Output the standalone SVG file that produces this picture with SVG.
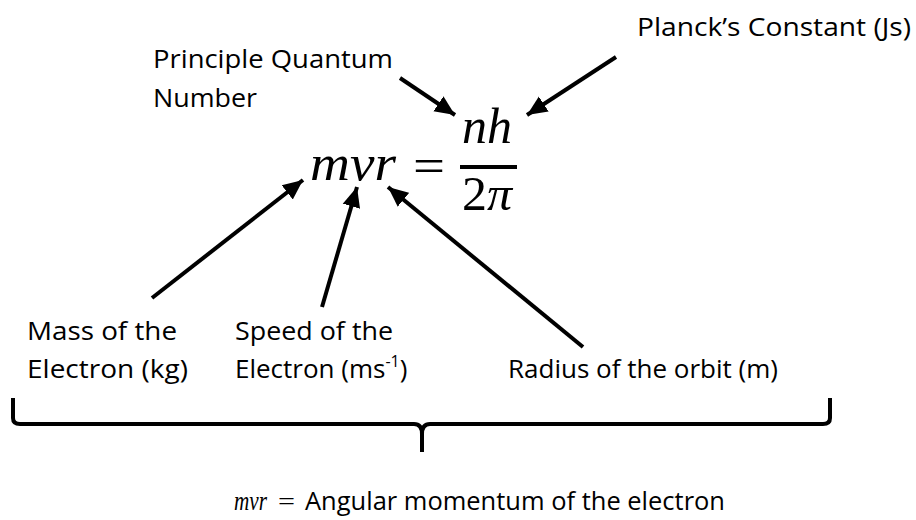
<svg xmlns="http://www.w3.org/2000/svg" width="916" height="520" viewBox="0 0 916 520">
<style>
.lbl{font-family:"Open Sans","Noto Sans","Liberation Sans",sans-serif;font-size:26px;fill:#000}
.math{font-family:"Liberation Serif","DejaVu Serif",serif;font-style:italic;fill:#000}
.up{font-family:"Liberation Serif","DejaVu Serif",serif;font-style:normal;fill:#000}
.arr{stroke:#000;stroke-width:4;fill:none;marker-end:url(#ah)}
</style>
<defs>
<marker id="ah" markerUnits="userSpaceOnUse" markerWidth="22" markerHeight="20" refX="20" refY="9" orient="auto" viewBox="0 0 22 18">
<path d="M0,0 L20,9 L0,18 Z" fill="#000"/>
</marker>
</defs>
<rect width="916" height="520" fill="#fff"/>
<g id="equation">
<text class="math" x="310" y="180" font-size="50" textLength="86" lengthAdjust="spacingAndGlyphs">mvr</text>
<text class="up" x="413" y="182" font-size="48" textLength="32" lengthAdjust="spacingAndGlyphs">=</text>
<text class="math" x="462" y="143" font-size="50" textLength="50" lengthAdjust="spacingAndGlyphs">nh</text>
<rect x="460" y="165" width="57" height="4" fill="#000"/>
<text class="up" x="462" y="210" font-size="48" textLength="50" lengthAdjust="spacingAndGlyphs">2<tspan font-style="italic">π</tspan></text>
</g>
<g id="planck"><text class="lbl" x="637" y="36" textLength="274" lengthAdjust="spacingAndGlyphs">Planck’s Constant (Js)</text></g>
<g id="principle">
<text class="lbl" x="153" y="68" textLength="240" lengthAdjust="spacingAndGlyphs">Principle Quantum</text>
<text class="lbl" x="153" y="107" textLength="104" lengthAdjust="spacingAndGlyphs">Number</text>
</g>
<g id="mass">
<text class="lbl" x="27" y="340" textLength="150" lengthAdjust="spacingAndGlyphs">Mass of the</text>
<text class="lbl" x="27" y="378" textLength="161" lengthAdjust="spacingAndGlyphs">Electron (kg)</text>
</g>
<g id="speed">
<text class="lbl" x="235" y="340" textLength="158" lengthAdjust="spacingAndGlyphs">Speed of the</text>
<text class="lbl" x="235" y="378">Electron (ms<tspan font-size="16" dy="-11">-1</tspan><tspan dy="11">)</tspan></text>
</g>
<g id="radius"><text class="lbl" x="508" y="378" textLength="270" lengthAdjust="spacingAndGlyphs">Radius of the orbit (m)</text></g>
<g id="connectors">
<line class="arr" x1="400" y1="78" x2="455" y2="115"/>
<line class="arr" x1="616" y1="57" x2="527" y2="115"/>
<line class="arr" x1="152" y1="298" x2="303" y2="180"/>
<line class="arr" x1="322" y1="307" x2="357" y2="187"/>
<line class="arr" x1="583" y1="347" x2="388" y2="187"/>
</g>
<g id="brace">
<path d="M13,398 L13,418 Q13,424 20,424 L414,424 Q422,424 422,434 L422,452 M422,434 Q422,424 430,424 L823,424 Q830,424 830,418 L830,398" fill="none" stroke="#000" stroke-width="4"/>
</g>
<g id="definition">
<text class="math" x="234" y="510" font-size="28" textLength="33" lengthAdjust="spacingAndGlyphs">mvr</text>
<text class="up" x="278" y="510" font-size="26" textLength="17" lengthAdjust="spacingAndGlyphs">=</text>
<text class="lbl" x="305" y="510" textLength="420" lengthAdjust="spacingAndGlyphs">Angular momentum of the electron</text>
</g>
</svg>
